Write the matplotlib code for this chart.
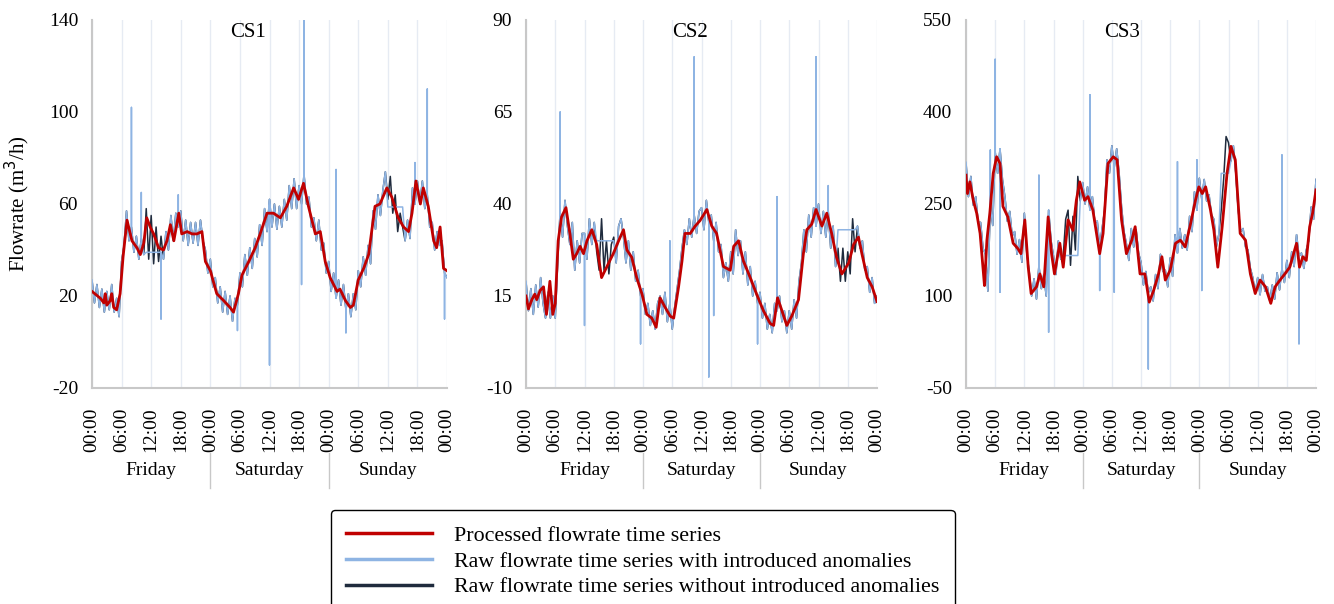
import numpy as np
import matplotlib
matplotlib.use('Agg')
import matplotlib.pyplot as plt
from matplotlib.lines import Line2D

plt.rcParams['font.family'] = ['Liberation Serif', 'DejaVu Serif']

# zaman ekseni: 3 gün, yarım saatlik ham veri
hours = np.arange(0, 72.5, 0.5)
tick_hours = np.arange(0, 73, 6)
tick_labels = ['00:00', '06:00', '12:00', '18:00'] * 3 + ['00:00']
days = ['Friday', 'Saturday', 'Sunday']

# ---------------- CS1 ----------------
cs1_raw = [27, 17, 25, 15, 23, 13, 22, 14, 25, 13, 19, 11,
           35, 42, 57, 44, 50, 39, 46, 36, 45, 38, 58, 36,
           55, 34, 50, 35, 46, 36, 48, 40, 55, 44, 56, 50,
           57, 44, 53, 42, 52, 43, 52, 42, 53, 44, 40, 30,
           36, 24, 28, 17, 24, 13, 22, 12, 20, 9, 19, 16,
           30, 24, 38, 29, 41, 32, 45, 37, 51, 42, 58, 48,
           62, 50, 60, 49, 59, 50, 62, 53, 68, 58, 71, 58,
           68, 60, 73, 60, 63, 50, 54, 44, 53, 40, 43, 30,
           35, 22, 30, 19, 27, 16, 25, 14, 21, 11, 21, 14,
           31, 24, 37, 29, 42, 34, 57, 49, 64, 55, 66, 74,
           62, 72, 56, 64, 48, 56, 50, 44, 53, 45, 67, 60,
           70, 60, 70, 58, 64, 50, 52, 40, 48, 42, 44, 30,
           28]
cs1_proc_t = [0, 1.7, 2.4, 2.7, 3, 3.7, 4, 4.4, 5, 5.7, 6.3, 7.1, 8.1, 9.1, 9.8, 10.5,
              11.1, 11.8, 12.5, 13.5, 14.5, 15.2, 15.9, 16.6, 17.6, 18.2, 19.3, 20.3,
              21.3, 22.3, 23, 24, 25.3, 26.7, 28, 28.7, 29.7, 30.4, 31.8, 33.1, 34.1,
              35.5, 36.8, 38.2, 39.5, 40.9, 41.9, 42.9, 43.9, 45.3, 46.3, 47.3, 48.3,
              49.7, 50.3, 51.4, 52.4, 53, 54, 55.1, 56.1, 57.4, 58.4, 59.8, 60.8, 62.1,
              63.2, 64.2, 64.9, 65.7, 66.6, 67.2, 68.2, 69.3, 69.9, 70.6, 71.3, 72]
cs1_proc_v = [22, 19, 17, 21, 16, 18, 21, 15, 14, 21, 37, 53, 44, 41, 38, 43,
              54, 50, 47, 41, 40, 44, 51, 44, 56, 47, 48, 47,
              47, 48, 35, 31, 21, 18, 15, 13, 21, 29, 35, 41, 47,
              56, 56, 54, 59, 67, 62, 69, 59, 47, 48, 35, 28,
              22, 23, 18, 15, 16, 27, 32, 38, 59, 60, 67, 63, 54,
              50, 48, 56, 70, 60, 67, 59, 44, 41, 50, 32, 31]
cs1_spikes = [(8.0, 102), (10.0, 65), (14.0, 10), (17.5, 64), (29.5, 5), (36.0, -10),
              (42.5, 25), (43.0, 140), (49.5, 75), (51.5, 4), (65.5, 78), (68.0, 110),
              (71.5, 10)]
cs1_stuck = [(11.0, 14.0, 39), (60.0, 63.0, 58.7)]

# ---------------- CS2 ----------------
cs2_raw = [19, 11, 17, 10, 18, 12, 20, 13, 9, 16, 9, 15,
           9, 24, 38, 31, 41, 34, 29, 35, 22, 30, 24, 32,
           32, 25, 36, 29, 35, 27, 22, 36, 22, 30, 21, 29,
           31, 24, 34, 36, 31, 24, 30, 22, 27, 19, 22, 15,
           17, 10, 13, 7, 11, 6, 13, 15, 10, 16, 8, 13,
           6, 12, 17, 22, 28, 33, 29, 36, 31, 37, 32, 38,
           39, 33, 41, 35, 37, 30, 35, 27, 29, 20, 24, 19,
           27, 21, 33, 26, 30, 21, 27, 18, 23, 15, 19, 13,
           16, 9, 13, 6, 10, 5, 13, 11, 15, 8, 11, 5,
           11, 6, 14, 9, 19, 24, 33, 27, 37, 31, 39, 34,
           40, 32, 38, 31, 38, 28, 34, 23, 28, 19, 28, 19,
           27, 21, 36, 27, 34, 28, 30, 22, 23, 16, 20, 13,
           15]
cs2_proc_t = [0, 0.5, 1.2, 1.8, 2.2, 2.9, 3.6, 4.2, 4.9, 5.5, 6, 6.6, 7.3, 8.2, 9, 9.7,
              10.4, 11.1, 11.8, 12.5, 13.5, 14.5, 15.5, 16.6, 17.9, 19, 20, 20.7, 21.7,
              22.7, 23.8, 24.8, 25.8, 26.7, 27.5, 28.5, 29.6, 30.3, 31.3, 32, 32.6,
              33.7, 34.7, 35.7, 37.1, 38.1, 39.1, 40.5, 41.9, 42.6, 43.6, 44.6, 46,
              47.3, 48.7, 50.1, 50.8, 51.6, 52.5, 53.5, 54.5, 55.9, 56.9, 57.6, 58.6,
              59.5, 60.7, 61.7, 62.7, 63.7, 64.8, 66.2, 67.2, 68.2, 68.9, 70, 71, 72]
cs2_proc_v = [15, 11.5, 14, 15.5, 14, 16.5, 17.5, 10, 19, 10, 13, 30, 36.5, 39, 32, 25,
              26.5, 28.5, 26.5, 30, 33, 29, 20, 23, 26.5, 30, 33, 27.5, 25.5,
              20, 15.5, 10, 9, 6.5, 14.5, 12, 9.5, 9, 17.5, 24.5, 32,
              32, 34, 35.5, 38.5, 34, 32, 23, 22, 28.5, 30, 24.5, 20,
              15.5, 11, 7.5, 7, 14.5, 11, 7, 9.5, 14, 26.5, 33, 34.5,
              38.5, 34, 37.5, 32, 25.5, 21, 24, 29, 31, 26.5, 20, 17.5, 13.5]
cs2_spikes = [(7.0, 65), (12.0, 7), (23.5, 2), (29.5, 30), (34.5, 80), (37.5, -7),
              (38.5, 9.7), (47.5, 2), (51.5, 42), (59.5, 80), (62.0, 45)]
cs2_stuck = [(14.5, 18.0, 30), (64.0, 67.5, 33)]

# ---------------- CS3 ----------------
cs3_raw = [318, 262, 295, 248, 262, 220, 220, 178, 168, 108, 250, 215,
           335, 300, 340, 290, 262, 222, 238, 198, 205, 168, 192, 155,
           235, 170, 140, 100, 128, 95, 150, 112, 135, 100, 240, 190,
           165, 135, 190, 160, 165, 225, 240, 150, 230, 175, 295, 255,
           285, 250, 278, 240, 262, 220, 222, 180, 210, 240, 322, 300,
           345, 310, 340, 300, 245, 205, 185, 158, 210, 180, 208, 170,
           155, 118, 140, 105, 115, 92, 135, 112, 168, 140, 142, 115,
           162, 132, 200, 170, 210, 178, 200, 175, 230, 205, 270, 240,
           292, 258, 290, 255, 265, 232, 225, 180, 200, 240, 290, 360,
           350, 320, 345, 300, 240, 205, 210, 180, 175, 145, 130, 105,
           130, 102, 135, 108, 115, 92, 118, 95, 138, 110, 145, 122,
           158, 130, 172, 148, 200, 165, 170, 145, 175, 190, 245, 225,
           290]
cs3_proc_t = [0, 0.3, 0.8, 1.5, 2.2, 2.9, 3.6, 3.8, 4.3, 4.9, 5.6, 6.3, 7, 7.6, 8.6,
              9.7, 10.7, 11.3, 12.1, 12.8, 13.4, 14.5, 15.2, 16, 16.9, 17.6, 18.2,
              19.3, 20, 21, 22, 22.7, 23.4, 24.4, 25.1, 26.1, 27.5, 28.2, 29.2, 30.3,
              31.1, 32, 33, 34.1, 34.8, 35.8, 36.8, 37.7, 38.6, 39.6, 40.3, 41, 42,
              43.1, 44.1, 45.1, 46.2, 47.2, 47.9, 48.6, 49.3, 50.3, 51, 51.8, 52.7,
              53.7, 54.5, 55.4, 56.4, 57.5, 58.5, 59.5, 60.5, 61.6, 62.7, 63.6, 64.6,
              65.6, 66.6, 68, 68.6, 69.3, 70, 70.7, 71.3, 72]
cs3_proc_v = [297, 267, 286, 256, 235, 202, 136, 117, 191, 235, 300, 327, 316, 246, 229,
              186, 177, 169, 224, 147, 104, 115, 136, 115, 229, 169, 136,
              186, 147, 224, 207, 256, 286, 256, 262, 240, 169, 202, 316, 327,
              322, 224, 169, 191, 213, 136, 136, 90, 109, 136, 164, 126, 142,
              186, 191, 180, 218, 256, 278, 267, 278, 240, 207, 147, 213,
              300, 344, 322, 202, 191, 136, 104, 126, 115, 88, 115, 126,
              136, 147, 186, 147, 164, 158, 213, 235, 273]
cs3_spikes = [(5.0, 338), (6.0, 486), (7.0, 106), (15.0, 297), (17.0, 41), (25.5, 428),
              (27.5, 109), (30.5, 106), (37.5, -19), (43.5, 319), (47.5, 322),
              (48.5, 109), (65.0, 330), (68.5, 22)]
cs3_stuck = [(20.5, 23.0, 166), (52.5, 54.0, 300)]

panels = [
    ('CS1', cs1_raw, cs1_proc_t, cs1_proc_v, cs1_spikes, cs1_stuck, [-20, 20, 60, 100, 140]),
    ('CS2', cs2_raw, cs2_proc_t, cs2_proc_v, cs2_spikes, cs2_stuck, [-10, 15, 40, 65, 90]),
    ('CS3', cs3_raw, cs3_proc_t, cs3_proc_v, cs3_spikes, cs3_stuck, [-50, 100, 250, 400, 550]),
]

c_red = '#c00000'
c_blue = '#8eb4e3'
c_dark = '#1f2b3d'

fig = plt.figure(figsize=(13.34, 6.04), dpi=100)
lefts = [92, 526, 966]
widths = [355, 351, 350]
title_x = [0.44, 0.467, 0.446]

for k, (name, raw, pt, pv, spikes, stuck, yt) in enumerate(panels):
    ax = fig.add_axes([lefts[k] / 1334, 1 - 388 / 604, widths[k] / 1334, 368 / 604])
    raw = np.array(raw, dtype=float)

    # anomali eklenmiş seri: sabit kalan bölümler + tekil sıçramalar
    anom = raw.copy()
    for a, b, val in stuck:
        anom[(hours >= a) & (hours <= b)] = val
    ta, va = list(hours), list(anom)
    for ts, vs in sorted(spikes, reverse=True):
        i = int(round(ts * 2))
        ta[i + 1:i + 1] = [ts, ts]
        va[i + 1:i + 1] = [vs, anom[i]]

    ax.plot(hours, raw, color=c_dark, lw=1.1, zorder=2)
    ax.plot(ta, va, color=c_blue, lw=1.1, zorder=3)
    ax.plot(pt, pv, color=c_red, lw=2.0, zorder=4)

    ax.set_xlim(0, 72)
    ax.set_ylim(yt[0], yt[-1])
    ax.set_yticks(yt)
    ax.set_yticklabels([str(v) for v in yt], fontsize=14)
    ax.set_xticks(tick_hours)
    ax.set_xticklabels(tick_labels, rotation=90, fontsize=14)
    ax.tick_params(length=0, pad=10)
    ax.tick_params(axis='x', pad=14)
    ax.grid(axis='x', color='#e6ebf3', lw=1.0)
    ax.set_axisbelow(True)
    for s in ['top', 'right']:
        ax.spines[s].set_visible(False)
    for s in ['left', 'bottom']:
        ax.spines[s].set_color('#c8c8c8')
        ax.spines[s].set_linewidth(1.5)

    ax.text(title_x[k], 0.965, name, transform=ax.transAxes, fontsize=15,
            ha='center', va='center')

    trans = ax.get_xaxis_transform()
    for d, day in enumerate(days):
        ax.text(12 + 24 * d, -0.225, day, transform=trans, fontsize=14,
                ha='center', va='center', clip_on=False)
    for xs in [24, 48]:
        ax.add_line(Line2D([xs, xs], [-0.177, -0.272], transform=trans,
                           color='#c8c8c8', lw=1.0, clip_on=False))
    if k == 0:
        ax.set_ylabel('Flowrate (m$^3$/h)', fontsize=15, labelpad=12)

handles = [Line2D([], [], color=c_red, lw=2.5),
           Line2D([], [], color=c_blue, lw=2.5),
           Line2D([], [], color=c_dark, lw=2.5)]
labels = ['Processed flowrate time series',
          'Raw flowrate time series with introduced anomalies',
          'Raw flowrate time series without introduced anomalies']
fig.legend(handles, labels, loc='upper left', bbox_to_anchor=(331 / 1334, 1 - 510 / 604),
           fontsize=15.8, frameon=True, edgecolor='black', fancybox=True,
           handlelength=3.9, labelspacing=0.25, borderpad=0.7, handletextpad=1.0,
           framealpha=1, borderaxespad=0)

fig.savefig('out.png', dpi=100)
